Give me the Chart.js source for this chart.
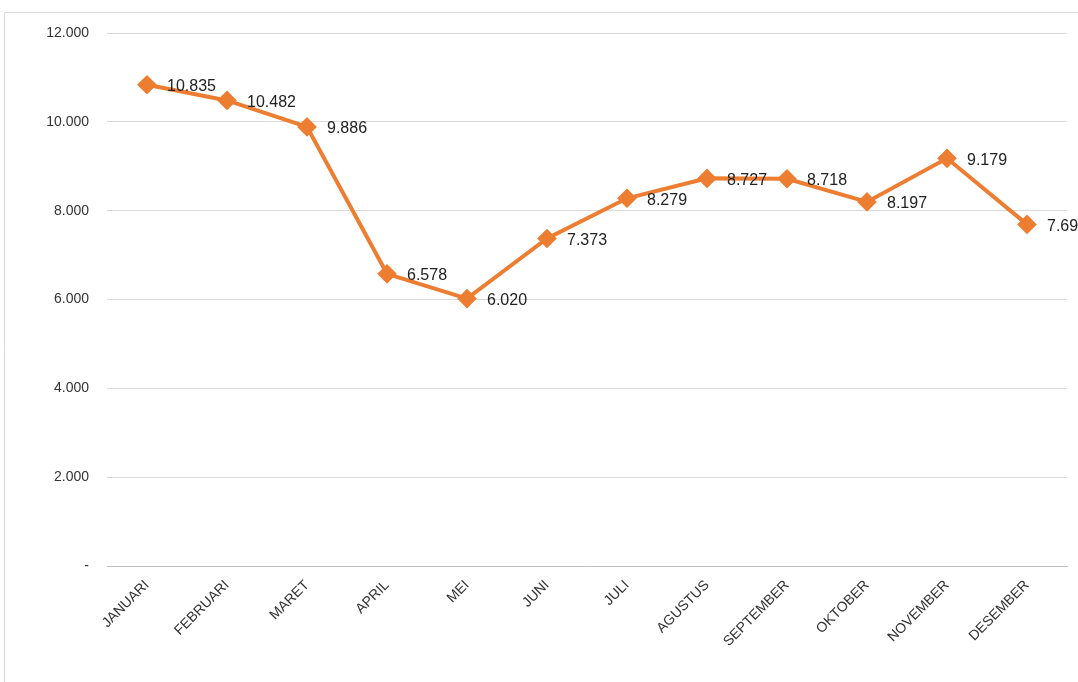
<!DOCTYPE html>
<html>
<head>
<meta charset="utf-8">
<script src="https://cdn.jsdelivr.net/npm/chart.js@4"></script>
<style>
  html, body { margin: 0; padding: 0; background: #fff; }
  #wrap { width: 1078px; height: 682px; position: relative; }
</style>
</head>
<body>
<div id="wrap"><canvas id="c" width="1078" height="682"></canvas></div>
<script>
// -------- DATA --------
const months = ["JANUARI", "FEBRUARI", "MARET", "APRIL", "MEI", "JUNI", "JULI",
  "AGUSTUS", "SEPTEMBER", "OKTOBER", "NOVEMBER", "DESEMBER"];
const values = [10835, 10482, 9886, 6578, 6020, 7373, 8279, 8727, 8718, 8197, 9179, 7691];
const yTicks = [0, 2000, 4000, 6000, 8000, 10000, 12000];

const fmt = v => v === 0 ? "-" : v.toLocaleString("de-DE");

// -------- DATA LABELS --------
const valueLabels = {
  id: "valueLabels",
  afterDatasetsDraw(chart) {
    const ctx = chart.ctx;
    const meta = chart.getDatasetMeta(0);
    ctx.save();
    ctx.font = "16px 'Liberation Sans', Arial, sans-serif";
    ctx.fillStyle = "#222";
    ctx.textAlign = "left";
    ctx.textBaseline = "middle";
    meta.data.forEach((pt, i) => {
      ctx.fillText(fmt(values[i]), pt.x + 20, pt.y + 2);
    });
    ctx.restore();
  }
};

// -------- BORDER --------
const frame = {
  id: "frame",
  beforeDraw(chart) {
    const ctx = chart.ctx;
    ctx.save();
    ctx.strokeStyle = "#d9d9d9";
    ctx.lineWidth = 1;
    ctx.beginPath();
    ctx.moveTo(4.5, 682);
    ctx.lineTo(4.5, 12.5);
    ctx.lineTo(1078, 12.5);
    ctx.stroke();
    ctx.restore();
  }
};

new Chart(document.getElementById("c"), {
  type: "line",
  data: {
    labels: months,
    datasets: [{
      data: values,
      borderColor: "#ED7D31",
      backgroundColor: "#ED7D31",
      borderWidth: 4,
      pointStyle: "rectRot",
      pointRadius: 7,
      pointHoverRadius: 7,
      tension: 0
    }]
  },
  options: {
    responsive: false,
    animation: false,
    layout: { padding: { top: 33, right: 7, left: 0, bottom: 0 } },
    plugins: { legend: { display: false }, tooltip: { enabled: false } },
    scales: {
      x: {
        offset: true,
        grid: { display: false },
        border: { color: "#bfbfbf" },
        ticks: {
          maxRotation: 45, minRotation: 45,
          color: "#333",
          font: { family: "'Liberation Sans', Arial, sans-serif", size: 14 }
        },
        afterFit: s => { s.height = 116; }
      },
      y: {
        min: 0, max: 12000,
        afterBuildTicks: s => { s.ticks = yTicks.map(v => ({ value: v })); },
        grid: { color: "#d9d9d9", drawTicks: false },
        border: { display: false },
        ticks: {
          padding: 18,
          color: "#333",
          font: { family: "'Liberation Sans', Arial, sans-serif", size: 14 },
          callback: v => fmt(v)
        },
        afterFit: s => { s.width = 107; }
      }
    }
  },
  plugins: [valueLabels, frame]
});
</script>
</body>
</html>
